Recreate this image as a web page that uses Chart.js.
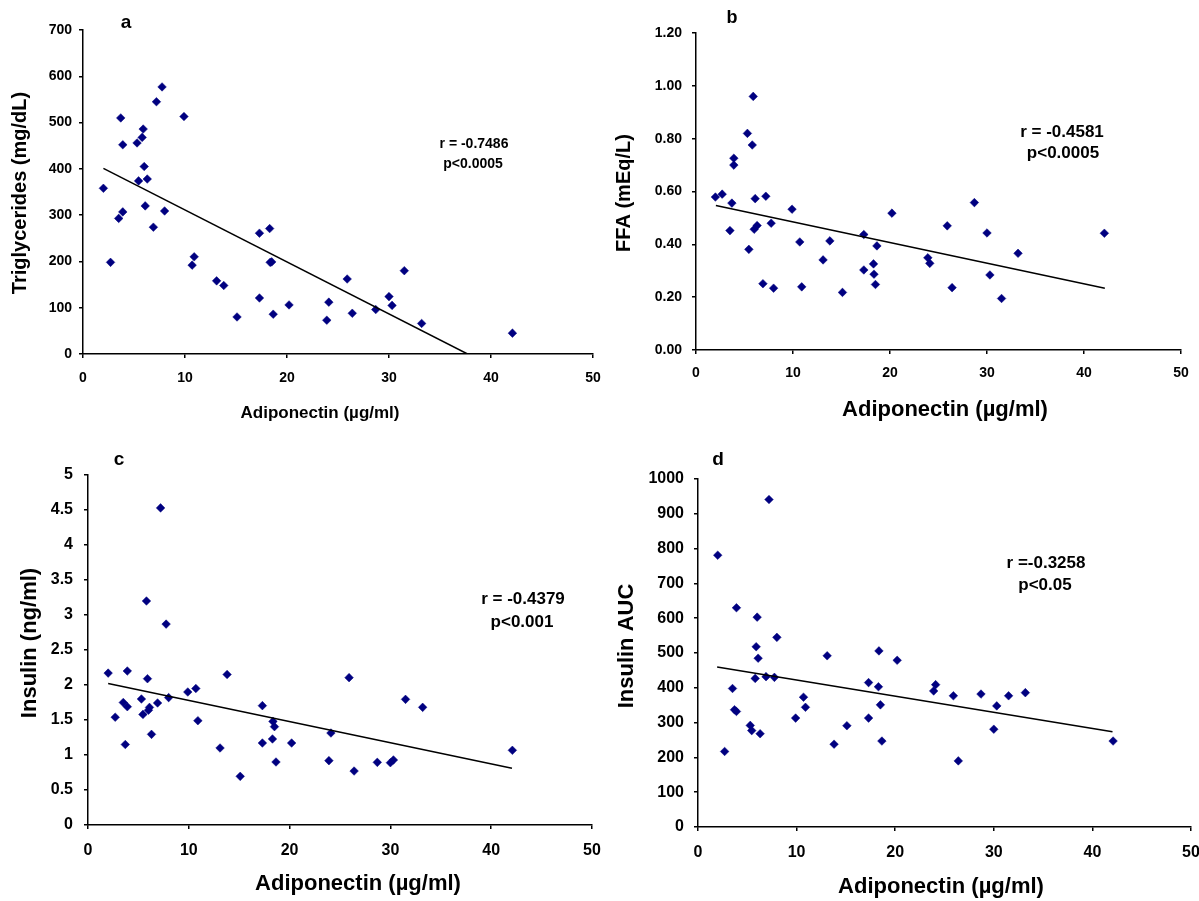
<!DOCTYPE html>
<html>
<head>
<meta charset="utf-8">
<title>Adiponectin correlations</title>
<script src="https://cdn.jsdelivr.net/npm/chart.js@4.4.1/dist/chart.umd.min.js"></script>
<style>
  html, body { margin: 0; padding: 0; background: #fff; }
  #wrap { position: relative; width: 1199px; height: 901px; overflow: hidden; }
  #wrap canvas { position: absolute; left: 0; top: 0; }
</style>
</head>
<body>
<div id="wrap">
  <canvas id="chartA" width="1199" height="901"></canvas>
  <canvas id="chartB" width="1199" height="901"></canvas>
  <canvas id="chartC" width="1199" height="901"></canvas>
  <canvas id="chartD" width="1199" height="901"></canvas>
</div>
<script>
// Adiponectin (ug/ml) - same subjects in all four panels
const adiponectin = [2.0, 2.7, 3.5, 3.7, 3.9, 3.9, 5.3, 5.45, 5.8, 5.9, 6.0, 6.1, 6.3, 6.9, 7.2, 7.75, 8.0, 9.9, 10.7, 10.9,
    13.1, 13.8, 15.1, 17.3, 17.3, 18.3, 18.35, 18.5, 18.65, 20.2, 23.9, 24.1, 25.9, 26.4, 28.7, 30.0, 30.3, 31.5, 33.2, 42.1];

const triglycerides = [358, 198, 293, 510, 452, 307, 456, 374, 468, 486, 405, 320, 378, 274, 545, 577, 309, 513, 192, 210,
    158, 148, 80, 261, 121, 271, 198, 199, 86, 106, 73, 112, 162, 88, 96, 124, 105, 180, 66, 45];

const ffa = [0.579, 0.590, 0.452, 0.556, 0.726, 0.700, 0.820, 0.381, 0.776, 0.960, 0.457, 0.573, 0.471, 0.251, 0.582, 0.480, 0.234, 0.533, 0.409, 0.239,
    0.341, 0.413, 0.218, 0.437, 0.303, 0.326, 0.287, 0.248, 0.394, 0.518, 0.349, 0.328, 0.470, 0.236, 0.558, 0.443, 0.284, 0.195, 0.366, 0.442];

const insulin = [2.17, 1.54, 1.75, 1.15, 1.69, 2.20, 1.80, 1.58, 3.20, 2.09, 1.64, 1.68, 1.295, 1.743, 4.53, 2.87, 1.82, 1.90, 1.95, 1.49,
    1.10, 2.15, 0.695, 1.705, 1.171, 1.229, 1.48, 1.405, 0.90, 1.171, 0.919, 1.314, 2.105, 0.771, 0.895, 0.89, 0.929, 1.795, 1.681, 1.067];

const insulinAuc = [781, 217, 398, 337, 332, 630, 292, 277, 427, 518, 603, 485, 268, 432, 941, 430, 545, 313, 373, 344,
    492, 238, 291, 415, 313, 403, 506, 351, 247, 479, 391, 409, 377, 190, 382, 281, 348, 377, 386, 247];

// Regression line end points
const trendTgX = [2.0, 37.7];
const trendTgY = [401, 0];
const trendFfaX = [2.05, 42.15];
const trendFfaY = [0.547, 0.234];
const trendInsX = [2.0, 42.06];
const trendInsY = [2.02, 0.81];
const trendAucX = [1.94, 42.04];
const trendAucY = [460, 274];

const FONT = "'Liberation Sans', Arial, sans-serif";
const NAVY = '#000080';
const PAGE_W = 1199, PAGE_H = 901;
const Y_W = 70, X_H = 40;

Chart.defaults.color = '#000';

// Free text: panel letters, r/p values, axis titles
const panelText = {
    id: 'panelText',
    afterDraw(chart, args, opts) {
        const ctx = chart.ctx;
        ctx.save();
        ctx.fillStyle = '#000';
        ctx.textAlign = 'center';
        ctx.textBaseline = 'middle';
        (opts.items || []).forEach(t => {
            ctx.font = 'bold ' + t.size + 'px ' + FONT;
            ctx.save();
            ctx.translate(t.x, t.y);
            if (t.rotate) ctx.rotate(-Math.PI / 2);
            ctx.fillText(t.text, 0, 0);
            ctx.restore();
        });
        ctx.restore();
    }
};

function makePanel(id, p) {
    const points = adiponectin.map((x, i) => ({ x: x, y: p.values[i] }));
    const line = p.trendX.map((x, i) => ({ x: x, y: p.trendY[i] }));
    const tickFont = { family: FONT, size: p.tickSize, weight: 'bold' };
    const gridOpts = { display: true, drawOnChartArea: false, drawTicks: true, tickLength: 4, color: '#000', lineWidth: 1.5 };

    return new Chart(document.getElementById(id), {
        type: 'scatter',
        data: {
            datasets: [
                {
                    data: points,
                    pointStyle: 'rectRot',
                    pointRadius: 4.3,
                    backgroundColor: NAVY,
                    borderColor: NAVY,
                    borderWidth: 0.5,
                    order: 1
                },
                {
                    data: line,
                    showLine: true,
                    pointRadius: 0,
                    borderColor: '#000',
                    borderWidth: 1.5,
                    order: 0
                }
            ]
        },
        options: {
            responsive: false,
            animation: false,
            devicePixelRatio: 1,
            events: [],
            layout: {
                padding: {
                    left: p.box.left - Y_W,
                    right: PAGE_W - p.box.right,
                    top: p.box.top,
                    bottom: PAGE_H - p.box.bottom - X_H
                }
            },
            plugins: {
                legend: { display: false },
                tooltip: { enabled: false },
                panelText: { items: p.texts }
            },
            scales: {
                x: {
                    type: 'linear',
                    min: 0,
                    max: 50,
                    ticks: { stepSize: 10, font: tickFont, padding: p.xPad, maxRotation: 0, autoSkip: false },
                    grid: gridOpts,
                    border: { display: true, color: '#000', width: 1.5 },
                    afterFit: s => { s.height = X_H; s.paddingLeft = 0; s.paddingRight = 0; }
                },
                y: {
                    type: 'linear',
                    min: p.yMin,
                    max: p.yMax,
                    ticks: { stepSize: p.yStep, font: tickFont, padding: p.yPad, autoSkip: false, callback: p.yFormat },
                    grid: gridOpts,
                    border: { display: true, color: '#000', width: 1.5 },
                    afterFit: s => { s.width = Y_W; s.paddingTop = 0; s.paddingBottom = 0; }
                }
            }
        },
        plugins: [panelText]
    });
}

const xTitle = 'Adiponectin (\u00b5g/ml)';

makePanel('chartA', {
    values: triglycerides, trendX: trendTgX, trendY: trendTgY,
    box: { left: 83, right: 593, top: 30, bottom: 354 },
    yMin: 0, yMax: 700, yStep: 100, yFormat: v => String(v),
    tickSize: 14, xPad: 12, yPad: 7,
    texts: [
        { text: 'a', x: 126, y: 23, size: 19 },
        { text: 'r = -0.7486', x: 474, y: 144, size: 14 },
        { text: 'p<0.0005', x: 473, y: 164, size: 14 },
        { text: 'Triglycerides (mg/dL)', x: 20, y: 193, size: 20, rotate: true },
        { text: xTitle, x: 320, y: 413, size: 17 }
    ]
});

makePanel('chartB', {
    values: ffa, trendX: trendFfaX, trendY: trendFfaY,
    box: { left: 696, right: 1181, top: 33, bottom: 350 },
    yMin: 0, yMax: 1.2, yStep: 0.2, yFormat: v => v.toFixed(2),
    tickSize: 14, xPad: 11, yPad: 10,
    texts: [
        { text: 'b', x: 732, y: 18, size: 18 },
        { text: 'r = -0.4581', x: 1062, y: 132, size: 17 },
        { text: 'p<0.0005', x: 1063, y: 153, size: 17 },
        { text: 'FFA (mEq/L)', x: 624, y: 193, size: 20, rotate: true },
        { text: xTitle, x: 945, y: 410, size: 22 }
    ]
});

makePanel('chartC', {
    values: insulin, trendX: trendInsX, trendY: trendInsY,
    box: { left: 88, right: 592, top: 475, bottom: 825 },
    yMin: 0, yMax: 5, yStep: 0.5, yFormat: v => String(v),
    tickSize: 16, xPad: 12, yPad: 11,
    texts: [
        { text: 'c', x: 119, y: 460, size: 19 },
        { text: 'r = -0.4379', x: 523, y: 599, size: 17 },
        { text: 'p<0.001', x: 522, y: 622, size: 17 },
        { text: 'Insulin (ng/ml)', x: 30, y: 643, size: 22, rotate: true },
        { text: xTitle, x: 358, y: 884, size: 22 }
    ]
});

makePanel('chartD', {
    values: insulinAuc, trendX: trendAucX, trendY: trendAucY,
    box: { left: 698, right: 1191, top: 479, bottom: 827 },
    yMin: 0, yMax: 1000, yStep: 100, yFormat: v => String(v),
    tickSize: 16, xPad: 12, yPad: 10,
    texts: [
        { text: 'd', x: 718, y: 460, size: 19 },
        { text: 'r =-0.3258', x: 1046, y: 563, size: 17 },
        { text: 'p<0.05', x: 1045, y: 585, size: 17 },
        { text: 'Insulin AUC', x: 627, y: 646, size: 22, rotate: true },
        { text: xTitle, x: 941, y: 887, size: 22 }
    ]
});
</script>
</body>
</html>
